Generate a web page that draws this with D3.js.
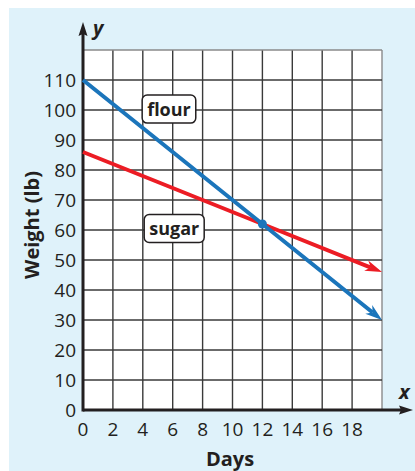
<!DOCTYPE html>
<meta charset="utf-8">
<script src="https://d3js.org/d3.v7.min.js"></script>
<div id="chart"></div>
<style>
  body { margin: 0; }
  text { font-family: "Open Sans", sans-serif; fill: #231f20; }
</style>
<script>
  var width = 415, height = 471;

  // data
  var days = [0, 12, 20];
  var flour = [110, 62, 30];
  var sugar = [86, 62, 46];
  var xTicks = [0, 2, 4, 6, 8, 10, 12, 14, 16, 18];
  var yTicks = [0, 10, 20, 30, 40, 50, 60, 70, 80, 90, 100, 110];
  var labels = [{ text: "flour", x: 5.75, y: 100.3 }, { text: "sugar", x: 6.1, y: 60.5 }];

  var svg = d3.select("#chart").append("svg")
    .attr("width", width)
    .attr("height", height);

  svg.append("rect")
    .attr("x", 9).attr("y", 8)
    .attr("width", width - 9).attr("height", height - 8)
    .attr("fill", "#dff2fa");

  var x = d3.scaleLinear().domain([0, 20]).range([83, 382]);
  var y = d3.scaleLinear().domain([0, 120]).range([410, 50]);

  // white plot area
  svg.append("rect")
    .attr("x", x(0)).attr("y", y(120))
    .attr("width", x(20) - x(0)).attr("height", y(0) - y(120))
    .attr("fill", "#fff");

  // grid
  var grid = svg.append("g").attr("stroke", "#3a3a3a").attr("stroke-width", 1.4);
  grid.selectAll(".v").data(d3.range(2, 21, 2)).enter().append("line")
    .attr("x1", d => x(d)).attr("x2", d => x(d))
    .attr("y1", y(0)).attr("y2", y(120))
    .attr("stroke", d => d === 20 ? "#8a8a8a" : null);
  grid.selectAll(".h").data(d3.range(10, 121, 10)).enter().append("line")
    .attr("y1", d => y(d)).attr("y2", d => y(d))
    .attr("x1", x(0)).attr("x2", x(20))
    .attr("stroke", d => d === 120 ? "#8a8a8a" : null);

  // axes
  svg.append("line")
    .attr("x1", x(0)).attr("x2", 402)
    .attr("y1", y(0)).attr("y2", y(0))
    .attr("stroke", "#231f20").attr("stroke-width", 3);
  svg.append("path")
    .attr("d", "M413," + y(0) + "L399," + (y(0) - 4.5) + "L401," + y(0) + "L399," + (y(0) + 4.5) + "Z")
    .attr("fill", "#231f20");
  svg.append("line")
    .attr("x1", x(0)).attr("x2", x(0))
    .attr("y1", y(0) + 1.5).attr("y2", 33)
    .attr("stroke", "#231f20").attr("stroke-width", 3);
  svg.append("path")
    .attr("d", "M" + x(0) + ",22L" + (x(0) - 4.5) + ",36L" + x(0) + ",34L" + (x(0) + 4.5) + ",36Z")
    .attr("fill", "#231f20");

  // tick labels
  svg.selectAll(".yt").data(yTicks).enter().append("text")
    .attr("x", 76).attr("y", d => y(d) + 7)
    .attr("text-anchor", "end")
    .attr("font-size", 19)
    .text(d => d);
  svg.selectAll(".xt").data(xTicks).enter().append("text")
    .attr("x", d => x(d)).attr("y", 436)
    .attr("text-anchor", "middle")
    .attr("font-size", 19)
    .text(d => d);

  svg.append("text")
    .attr("x", 230).attr("y", 466)
    .attr("text-anchor", "middle")
    .attr("font-size", 20).attr("font-weight", "bold")
    .text("Days");
  svg.append("text")
    .attr("transform", "translate(39,225) rotate(-90)")
    .attr("text-anchor", "middle")
    .attr("font-size", 20).attr("font-weight", "bold")
    .text("Weight (lb)");
  svg.append("text")
    .attr("x", 93).attr("y", 35)
    .attr("font-size", 20).attr("font-weight", "bold").attr("font-style", "italic")
    .text("y");
  svg.append("text")
    .attr("x", 399).attr("y", 399)
    .attr("font-size", 20).attr("font-weight", "bold").attr("font-style", "italic")
    .text("x");

  // lines with barbed arrowheads
  function series(vals, color) {
    var pts = days.map((d, i) => [x(d), y(vals[i])]);
    var last = pts[pts.length - 1], prev = pts[pts.length - 2];
    var ang = Math.atan2(last[1] - prev[1], last[0] - prev[0]);
    var cs = Math.cos(ang), sn = Math.sin(ang);
    var L = 17, W = 5.5, N = 12;
    var bx = last[0] - L * cs, by = last[1] - L * sn;
    var nx = last[0] - N * cs, ny = last[1] - N * sn;
    var trimmed = pts.slice(0, -1).concat([[nx, ny]]);
    svg.append("path")
      .attr("d", d3.line()(trimmed))
      .attr("fill", "none").attr("stroke", color).attr("stroke-width", 4);
    var px = -sn, py = cs;
    svg.append("path")
      .attr("d", "M" + last + "L" + (bx + px * W) + "," + (by + py * W) + "L" + nx + "," + ny +
        "L" + (bx - px * W) + "," + (by - py * W) + "Z")
      .attr("fill", color);
  }
  series(sugar, "#ec1c24");
  series(flour, "#1b75bb");

  svg.append("circle")
    .attr("cx", x(days[1])).attr("cy", y(flour[1]))
    .attr("r", 4.5).attr("fill", "#1b75bb");

  // labels in rounded boxes
  labels.forEach(function (l) {
    var g = svg.append("g");
    var t = g.append("text")
      .attr("x", x(l.x)).attr("y", y(l.y) + 6.5)
      .attr("text-anchor", "middle")
      .attr("font-size", 18).attr("font-weight", "bold")
      .text(l.text);
    var w = t.node().getComputedTextLength() + 10;
    g.insert("rect", "text")
      .attr("x", x(l.x) - w / 2).attr("y", y(l.y) - 14)
      .attr("width", w).attr("height", 28)
      .attr("rx", 5)
      .attr("fill", "#fff").attr("stroke", "#231f20").attr("stroke-width", 1.5);
  });
</script>
